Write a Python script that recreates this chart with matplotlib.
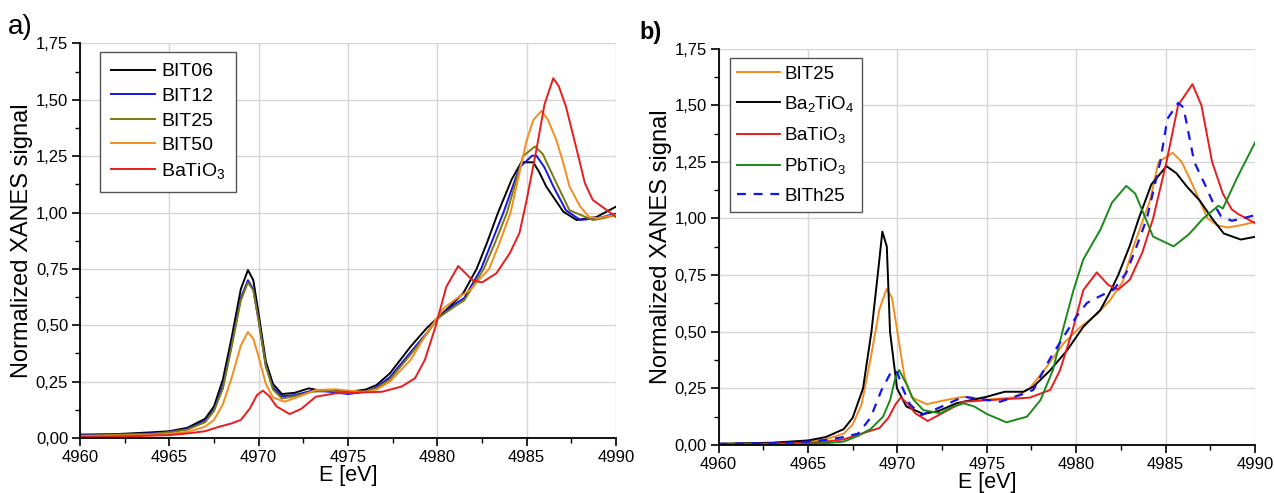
import numpy as np
import matplotlib
matplotlib.use("Agg")
import matplotlib.pyplot as plt
from matplotlib.ticker import MultipleLocator, FuncFormatter

plt.rcParams['font.family'] = ['Liberation Sans', 'DejaVu Sans']
plt.rcParams['mathtext.fontset'] = 'custom'
plt.rcParams['mathtext.rm'] = 'Liberation Sans'
plt.rcParams['mathtext.it'] = 'Liberation Sans:italic'
plt.rcParams['mathtext.bf'] = 'Liberation Sans:bold'

# ---------------- Panel a) data ----------------
a_E_bit06 = [4960, 4962, 4964, 4965, 4966, 4967, 4967.5, 4968, 4968.5, 4969, 4969.4, 4969.7, 4970,
             4970.4, 4970.8, 4971.3, 4972, 4972.8, 4973.5, 4974.5, 4975.1, 4976, 4976.6, 4977.35,
             4978.5, 4979.4, 4980.5, 4981.45, 4982.2, 4982.8, 4983.4, 4984.15, 4984.7, 4985.37,
             4985.7, 4986.1, 4987.05, 4987.8, 4988.9, 4990]
a_v_bit06 = [0.015, 0.017, 0.025, 0.03, 0.045, 0.085, 0.14, 0.26, 0.45, 0.66, 0.745, 0.70, 0.55,
             0.34, 0.24, 0.195, 0.20, 0.22, 0.21, 0.21, 0.205, 0.215, 0.235, 0.287,
             0.405, 0.487, 0.568, 0.642, 0.75, 0.87, 1.0, 1.145, 1.223, 1.223,
             1.18, 1.115, 1.004, 0.967, 0.98, 1.026]

a_E_bit12 = [4960, 4964, 4965, 4966, 4967, 4967.5, 4968, 4968.5, 4969, 4969.4, 4969.7, 4970,
             4970.4, 4970.8, 4971.3, 4972, 4973, 4974, 4975, 4976, 4976.6, 4977.35, 4978.5,
             4979.4, 4980, 4981, 4981.5, 4982.45, 4983, 4983.7, 4984.6, 4985.3, 4985.55,
             4986.0, 4986.5, 4987.2, 4988, 4989, 4990]
a_v_bit12 = [0.012, 0.02, 0.027, 0.04, 0.075, 0.125, 0.23, 0.42, 0.62, 0.70, 0.66, 0.52,
             0.32, 0.225, 0.185, 0.19, 0.21, 0.205, 0.195, 0.205, 0.225, 0.27, 0.38,
             0.465, 0.53, 0.595, 0.62, 0.75, 0.86, 1.0, 1.2, 1.252, 1.252,
             1.2, 1.115, 1.01, 0.967, 0.975, 0.995]

a_E_bit25 = [4960, 4964, 4965, 4966, 4967, 4967.5, 4968, 4968.5, 4969, 4969.4, 4969.7, 4970,
             4970.4, 4970.8, 4971.3, 4972, 4973, 4974, 4975, 4976, 4976.6, 4977.35, 4978.5,
             4979.4, 4980, 4981, 4981.5, 4982.6, 4983.2, 4983.9, 4984.8, 4985.46, 4985.9,
             4986.67, 4987.4, 4988.7, 4989.3, 4990]
a_v_bit25 = [0.01, 0.018, 0.025, 0.037, 0.07, 0.12, 0.22, 0.41, 0.61, 0.69, 0.655, 0.52,
             0.32, 0.215, 0.175, 0.185, 0.205, 0.21, 0.20, 0.205, 0.22, 0.26, 0.37,
             0.46, 0.53, 0.585, 0.61, 0.75, 0.86, 1.0, 1.25, 1.293, 1.26,
             1.13, 1.01, 0.967, 0.975, 0.99]

a_E_bit50 = [4960, 4964, 4965, 4966, 4967, 4967.5, 4968, 4968.5, 4969, 4969.4, 4969.7, 4970,
             4970.4, 4970.8, 4971.45, 4972.3, 4973.2, 4974.3, 4975, 4976, 4976.6, 4977.35,
             4978.5, 4979.4, 4980.35, 4981.1, 4981.85, 4982.4, 4982.9, 4983.5, 4984.1, 4985,
             4985.37, 4985.84, 4986.2, 4986.67, 4987.05, 4987.4, 4988, 4988.5, 4989, 4990]
a_v_bit50 = [0.008, 0.013, 0.018, 0.027, 0.05, 0.08, 0.15, 0.27, 0.41, 0.47, 0.44, 0.36,
             0.24, 0.18, 0.161, 0.185, 0.213, 0.216, 0.21, 0.205, 0.215, 0.25,
             0.346, 0.464, 0.575, 0.62, 0.657, 0.708, 0.75, 0.87, 1.0, 1.32,
             1.41, 1.452, 1.41, 1.32, 1.22, 1.115, 1.026, 0.98, 0.975, 0.99]

a_E_bto = [4960, 4963, 4965, 4966, 4967, 4967.8, 4968.5, 4969, 4969.5, 4969.9, 4970.24, 4970.6,
           4971, 4971.74, 4972.4, 4973.2, 4974.3, 4975, 4976.9, 4978.0, 4978.75, 4979.3, 4979.9,
           4980.5, 4981.17, 4981.97, 4982.5, 4983.3, 4984.06, 4984.6, 4985, 4985.55, 4986,
           4986.49, 4986.8, 4987.2, 4987.8, 4988.26, 4988.7, 4989.5, 4990]
a_v_bto = [0.005, 0.008, 0.013, 0.02, 0.03, 0.05, 0.065, 0.08, 0.13, 0.19, 0.21, 0.185,
           0.14, 0.106, 0.13, 0.183, 0.198, 0.20, 0.205, 0.228, 0.265, 0.346, 0.494,
           0.67, 0.763, 0.70, 0.69, 0.73, 0.82, 0.91, 1.056, 1.28, 1.48,
           1.596, 1.56, 1.47, 1.28, 1.13, 1.056, 1.01, 0.98]

# ---------------- Panel b) data ----------------
b_E_bit25 = [4960, 4964, 4966, 4967, 4967.5, 4968, 4968.5, 4969, 4969.4, 4969.7, 4970, 4970.4,
             4970.8, 4971.65, 4972.5, 4973.7, 4975, 4976.5, 4977.4, 4978.35, 4979.3, 4980.25,
             4981.2, 4981.9, 4982.6, 4983.2, 4984.13, 4984.6, 4985.4, 4985.9, 4986.5, 4987.35,
             4987.9, 4988.45, 4989.2, 4990]
b_v_bit25 = [0.005, 0.01, 0.025, 0.05, 0.09, 0.18, 0.38, 0.6, 0.689, 0.65, 0.5, 0.3,
             0.21, 0.18, 0.195, 0.213, 0.2, 0.21, 0.25, 0.345, 0.449, 0.522,
             0.58, 0.64, 0.72, 0.875, 1.08, 1.25, 1.29, 1.25, 1.15, 1.0,
             0.97, 0.96, 0.97, 0.985]

b_E_ba2 = [4960, 4963, 4965, 4966, 4967, 4967.5, 4968.08, 4968.55, 4968.9, 4969.16, 4969.41,
           4969.59, 4969.98, 4970.5, 4971.45, 4972.3, 4973.3, 4975, 4976, 4977.05, 4977.6,
           4978.55, 4979.5, 4980.4, 4981.35, 4981.9, 4982.35, 4983.0, 4983.5, 4984.2, 4985.05,
           4985.6, 4986.2, 4986.9, 4987.6, 4988.25, 4989.2, 4990]
b_v_ba2 = [0.005, 0.01, 0.02, 0.035, 0.07, 0.12, 0.25, 0.5, 0.75, 0.942, 0.876,
           0.5, 0.25, 0.17, 0.137, 0.15, 0.184, 0.213, 0.235, 0.235, 0.257,
           0.33, 0.419, 0.522, 0.596, 0.676, 0.75, 0.88, 1.0, 1.15, 1.231,
           1.2, 1.14, 1.08, 1.0, 0.934, 0.907, 0.919]

b_E_bto = [4960, 4963, 4965, 4966, 4967, 4967.8, 4968.4, 4969, 4969.5, 4969.9, 4970.2, 4970.6,
           4971, 4971.7, 4972.5, 4973.7, 4975.55, 4977.4, 4978.55, 4979.1, 4979.75, 4980.4,
           4981.15, 4981.8, 4982.35, 4983, 4983.7, 4984.3, 4985.05, 4985.7, 4986.5, 4987.0,
           4987.6, 4988.2, 4988.7, 4989.05, 4990]
b_v_bto = [0.003, 0.006, 0.01, 0.015, 0.025, 0.045, 0.06, 0.075, 0.12, 0.18, 0.21, 0.18,
           0.14, 0.106, 0.14, 0.191, 0.2, 0.209, 0.243, 0.331, 0.493, 0.684,
           0.762, 0.706, 0.686, 0.73, 0.85, 1.0, 1.25, 1.5, 1.593, 1.5,
           1.25, 1.11, 1.04, 1.02, 0.98]

b_E_pto = [4960, 4964, 4966, 4967, 4967.8, 4968.5, 4969.2, 4969.6, 4969.9, 4970.1, 4970.5,
           4970.9, 4971.45, 4972.4, 4973.0, 4973.7, 4974.3, 4975, 4976.1, 4977.25, 4978.0,
           4978.7, 4979.3, 4979.85, 4980.4, 4981.35, 4982.0, 4982.8, 4983.3, 4983.75, 4984.3,
           4985.45, 4986.3, 4987.1, 4987.95, 4988.2, 4989.0, 4990]
b_v_pto = [0.002, 0.004, 0.008, 0.015, 0.04, 0.07, 0.125, 0.2, 0.3, 0.331, 0.27,
           0.2, 0.154, 0.14, 0.165, 0.184, 0.17, 0.137, 0.10, 0.125, 0.198,
           0.331, 0.522, 0.684, 0.82, 0.95, 1.07, 1.144, 1.11, 1.025, 0.92,
           0.877, 0.93, 1.0, 1.056, 1.044, 1.18, 1.335]

b_E_bith = [4960, 4963, 4965, 4966, 4967, 4967.8, 4968.5, 4969.1, 4969.7, 4970.0, 4970.3,
            4970.7, 4971.35, 4972.2, 4973.7, 4975.75, 4976.85, 4977.6, 4978.55, 4979.3, 4980.0,
            4980.6, 4981.3, 4982.1, 4982.8, 4983.3, 4983.95, 4984.7, 4985.1, 4985.7, 4986.0,
            4986.6, 4987.2, 4987.65, 4988.1, 4988.7, 4989.3, 4990]
b_v_bith = [0.005, 0.008, 0.015, 0.022, 0.035, 0.05, 0.12, 0.24, 0.33, 0.32, 0.25,
            0.18, 0.132, 0.16, 0.213, 0.191, 0.22, 0.243, 0.383, 0.478, 0.566,
            0.627, 0.656, 0.686, 0.76, 0.86, 1.0, 1.25, 1.44, 1.51, 1.49,
            1.25, 1.15, 1.07, 1.01, 0.99, 1.0, 1.015]

x_ticks = [4960, 4965, 4970, 4975, 4980, 4985, 4990]

fig = plt.figure(figsize=(12.74, 4.93), dpi=100)
ax1 = fig.add_axes([0.0628, 0.1116, 0.4207, 0.8002])
ax2 = fig.add_axes([0.564, 0.0974, 0.4211, 0.804])

LW = 1.4
ax1.plot(a_E_bit06, a_v_bit06, color='#000000', lw=LW, label='BIT06')
ax1.plot(a_E_bit12, a_v_bit12, color='#1414e6', lw=LW, label='BIT12')
ax1.plot(a_E_bit25, a_v_bit25, color='#7a7a10', lw=LW, label='BIT25')
ax1.plot(a_E_bit50, a_v_bit50, color='#f58c1e', lw=LW, label='BIT50')
ax1.plot(a_E_bto, a_v_bto, color='#e81c1c', lw=LW, label='BaTiO$_3$')

ax2.plot(b_E_bit25, b_v_bit25, color='#f58c1e', lw=LW, label='BIT25')
ax2.plot(b_E_ba2, b_v_ba2, color='#000000', lw=LW, label='Ba$_2$TiO$_4$')
ax2.plot(b_E_bto, b_v_bto, color='#e81c1c', lw=LW, label='BaTiO$_3$')
ax2.plot(b_E_pto, b_v_pto, color='#1a8a1a', lw=LW, label='PbTiO$_3$')
ax2.plot(b_E_bith, b_v_bith, color='#1414f0', lw=1.6, ls=(0, (4, 3.5)), label='BITh25')

fmt = FuncFormatter(lambda v, p: f"{v:.2f}".replace('.', ','))
for ax in (ax1, ax2):
    ax.set_xlim(4960, 4990)
    ax.set_ylim(0, 1.75)
    ax.set_xticks(x_ticks)
    ax.xaxis.set_minor_locator(MultipleLocator(2.5))
    ax.yaxis.set_major_locator(MultipleLocator(0.25))
    ax.yaxis.set_minor_locator(MultipleLocator(0.125))
    ax.yaxis.set_major_formatter(fmt)
    ax.grid(True, which='major', color='#d6d6d6', lw=1.0)
    ax.set_axisbelow(True)
    for s in ('top', 'right'):
        ax.spines[s].set_visible(False)
    for s in ('left', 'bottom'):
        ax.spines[s].set_linewidth(1.3)
    ax.tick_params(which='major', direction='out', length=6, width=1.2, labelsize=12, pad=2.5)
    ax.tick_params(which='minor', direction='out', length=3.5, width=1.0)
    ax.set_xlabel('E [eV]', fontsize=15.5, labelpad=0)
    ax.set_ylabel('Normalized XANES signal', fontsize=17, labelpad=2)

leg1 = ax1.legend(loc='upper left', bbox_to_anchor=(0.037, 0.978), borderaxespad=0,
                  fontsize=14, frameon=True, fancybox=False, handlelength=2.3,
                  handletextpad=0.3, labelspacing=0.36, borderpad=0.55)
leg2 = ax2.legend(loc='upper left', bbox_to_anchor=(0.021, 0.976), borderaxespad=0,
                  fontsize=13.5, frameon=True, fancybox=False, handlelength=2.3,
                  handletextpad=0.2, labelspacing=0.6, borderpad=0.4)
for leg in (leg1, leg2):
    fr = leg.get_frame()
    fr.set_edgecolor('#555555')
    fr.set_linewidth(1.0)
    fr.set_alpha(1)

fig.text(0.006, 0.945, 'a)', fontsize=20, va='center', ha='left')
fig.text(0.502, 0.935, 'b)', fontsize=17, fontweight='bold', va='center', ha='left')

fig.savefig('out.png', dpi=100)
